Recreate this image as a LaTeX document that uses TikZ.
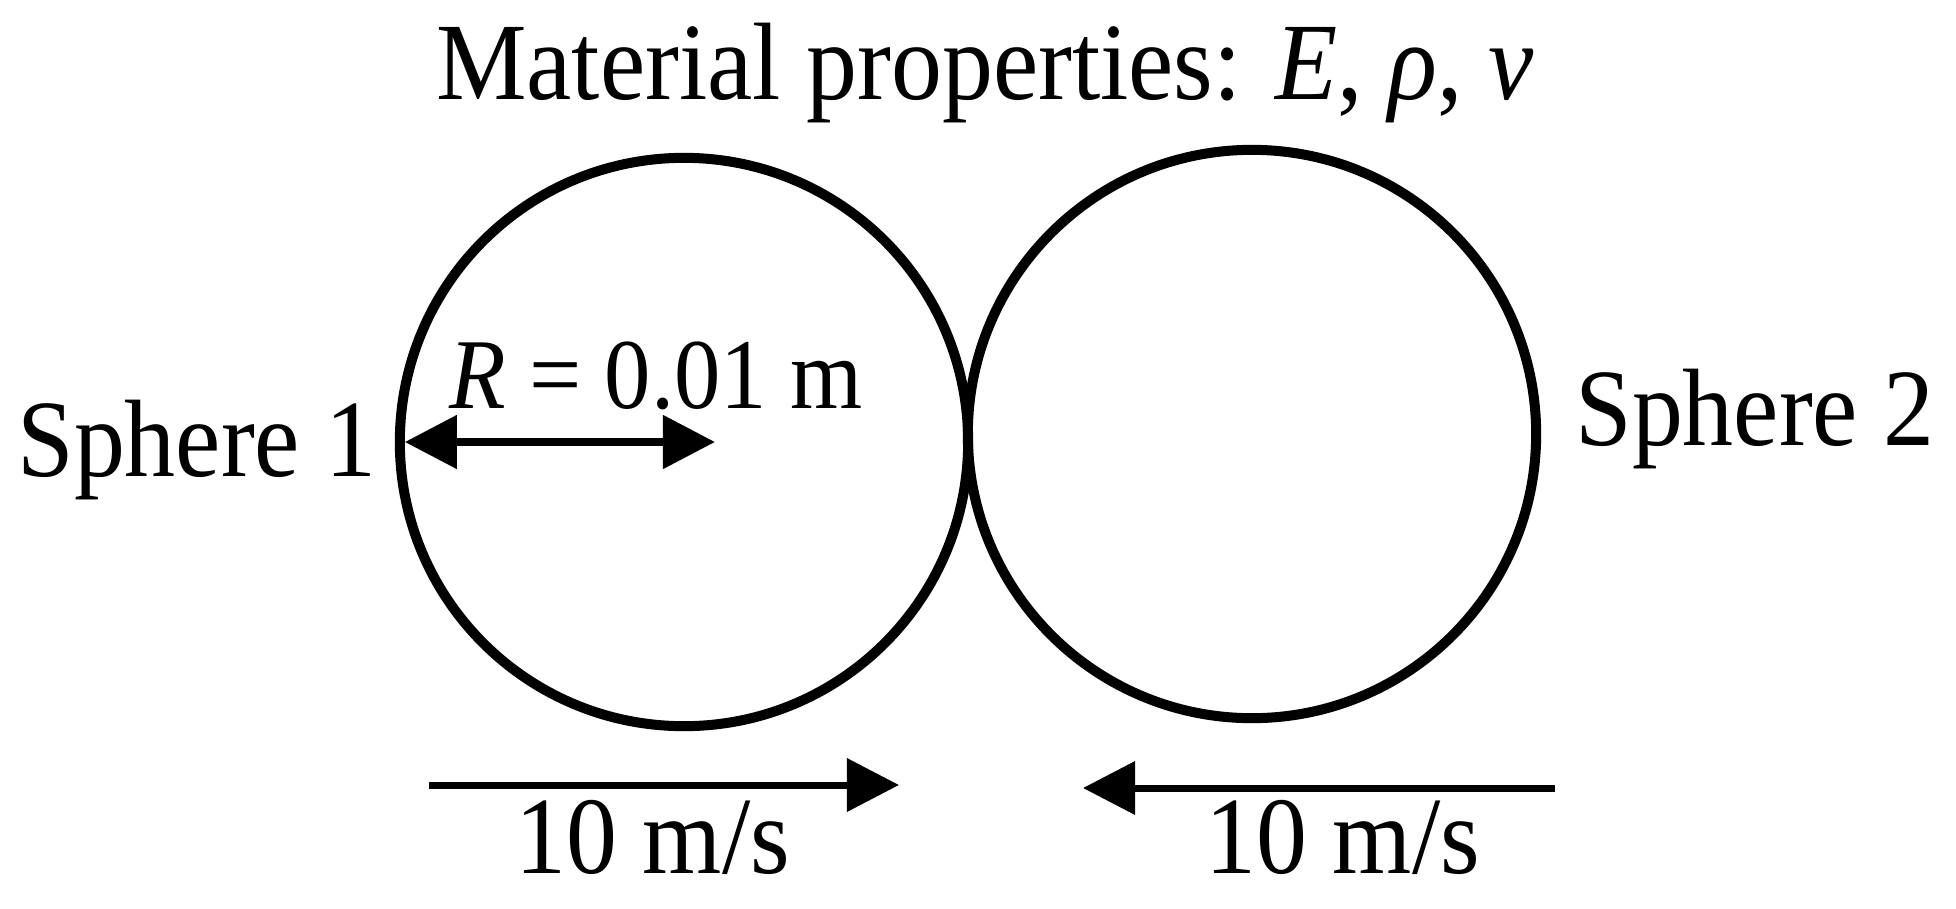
\documentclass[tikz,border=0pt]{standalone}
\usepackage{fontspec}
\setmainfont{Liberation Serif}[FakeStretch=0.925]
\usetikzlibrary{arrows.meta}
\begin{document}
\begin{tikzpicture}[line cap=butt,line join=miter,x=0.01cm,y=-0.01cm,
  sphere/.style={circle,draw,line width=0.1cm,minimum size=5.68cm,inner sep=0pt,outer sep=0pt},
  lbl/.style={inner sep=0pt,anchor=base,font=\fontsize{31.3pt}{36pt}\selectfont},
  velarrow/.style={line width=0.07cm,-{Triangle[length=0.52cm,width=0.52cm]}},
  radarrow/.style={line width=0.08cm,{Triangle[length=0.52cm,width=0.52cm]}-{Triangle[length=0.52cm,width=0.52cm]}}]
		\useasboundingbox (0,0) rectangle (1956,908);
		\node[sphere] (s1) at (684,442) {};
		\node[sphere] (s2) at (1252,434) {};
		\node[lbl] (title) at (985,99) {Material properties: \textit{E}, \textit{ρ}, \textit{v}};
		\node[lbl] (name1) at (197,476) {Sphere 1};
		\node[lbl] (name2) at (1755,445) {Sphere 2};
		\node[lbl,font=\fontsize{28.5pt}{33pt}\selectfont] (rlabel) at (656,408) {\textit{R} = 0.01 m};
		\node[lbl] (vel1) at (653,873) {10 m/s};
		\node[lbl] (vel2) at (1343,873) {10 m/s};
		\coordinate (rtip) at (715,442);
		\coordinate (a1start) at (429,785);
		\coordinate (a1end) at (899,785);
		\coordinate (a2start) at (1555,788);
		\coordinate (a2end) at (1083,788);
		\draw[radarrow] ([xshift=0.05cm]s1.west) -- (rtip);
		\draw[velarrow] (a1start) -- (a1end);
		\draw[velarrow] (a2start) -- (a2end);
\end{tikzpicture}
\end{document}
